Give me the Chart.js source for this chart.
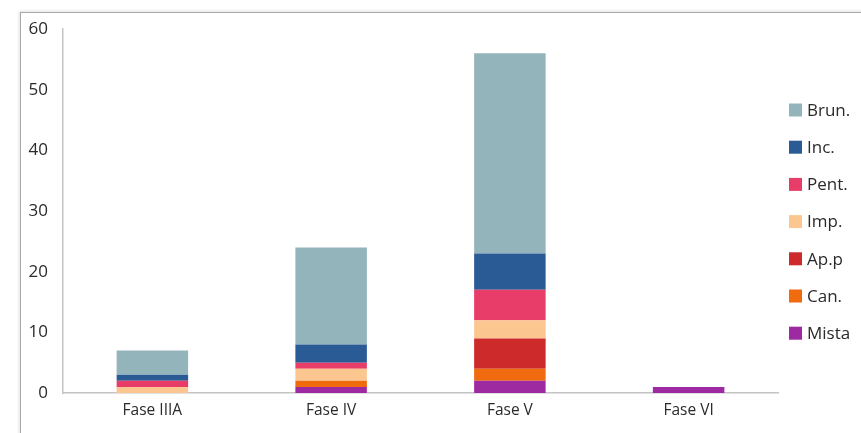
<!DOCTYPE html>
<html>
<head>
<meta charset="utf-8">
<script src="https://cdn.jsdelivr.net/npm/chart.js@4/dist/chart.umd.min.js"></script>
<style>
  html, body { margin: 0; padding: 0; background: #fff; }
  #wrap { position: relative; width: 861px; height: 433px; overflow: hidden; }
  #frame {
    position: absolute; left: 20px; top: 12px; right: -10px; bottom: -10px;
    border-top: 1px solid #a8a8a8; border-left: 1px solid #a8a8a8;
    box-shadow: -1px -1px 3px rgba(0,0,0,0.12);
  }
  canvas { position: absolute; left: 0; top: 0; }
</style>
</head>
<body>
<div id="wrap">
  <div id="frame"></div>
  <canvas id="c" width="861" height="433"></canvas>
</div>
<script>
// Phases on the x axis
const categories = ['Fase IIIA', 'Fase IV', 'Fase V', 'Fase VI'];

// Counts per type, stacked bottom to top
const mista = [0, 1, 2, 1];
const can   = [0, 1, 2, 0];
const app   = [0, 0, 5, 0];
const imp   = [1, 2, 3, 0];
const pent  = [1, 1, 5, 0];
const inc   = [1, 3, 6, 0];
const brun  = [4, 16, 33, 0];

const yTicks = [0, 10, 20, 30, 40, 50, 60];

const FONT = '"Open Sans", sans-serif';
const TEXT = '#2a2a2a';

const series = [
  { label: 'Mista', data: mista, color: '#9e2aa2' },
  { label: 'Can.',  data: can,   color: '#ef6b0e' },
  { label: 'Ap.p',  data: app,   color: '#cd2a2b' },
  { label: 'Imp.',  data: imp,   color: '#fcc690' },
  { label: 'Pent.', data: pent,  color: '#e93d69' },
  { label: 'Inc.',  data: inc,   color: '#2b5b95' },
  { label: 'Brun.', data: brun,  color: '#94b4bc' }
];

// Legend drawn at the right of the plot, top series first
const sideLegend = {
  id: 'sideLegend',
  afterDraw(chart) {
    const ctx = chart.ctx;
    const x0 = chart.chartArea.right + 11;
    const y0 = 110, step = 37.2, box = 13;
    ctx.save();
    ctx.font = '17px ' + FONT;
    ctx.textBaseline = 'middle';
    ctx.textAlign = 'left';
    const ds = chart.data.datasets.slice().reverse();
    ds.forEach((d, i) => {
      const y = y0 + i * step;
      ctx.fillStyle = d.backgroundColor;
      ctx.fillRect(x0, y - box / 2, box, box);
      ctx.fillStyle = TEXT;
      ctx.fillText(d.label, x0 + 18, y + 1);
    });
    ctx.restore();
  }
};

new Chart(document.getElementById('c'), {
  type: 'bar',
  data: {
    labels: categories,
    datasets: series.map(s => ({
      label: s.label,
      data: s.data,
      backgroundColor: s.color,
      borderWidth: 0,
      barPercentage: 0.4,
      categoryPercentage: 1.0
    }))
  },
  options: {
    responsive: false,
    animation: false,
    layout: { padding: { top: 29, right: 83, bottom: 0, left: 0 } },
    plugins: {
      legend: { display: false },
      tooltip: { enabled: false }
    },
    scales: {
      x: {
        stacked: true,
        grid: { display: false, drawTicks: false },
        border: { display: true, color: '#c4c4c4', width: 1.5 },
        ticks: { color: TEXT, font: { family: FONT, size: 15.5 }, padding: 8 },
        afterFit(scale) { scale.height = 40; }
      },
      y: {
        stacked: true,
        min: 0,
        max: 60,
        afterBuildTicks(scale) { scale.ticks = yTicks.map(v => ({ value: v })); },
        grid: { display: false, drawTicks: false },
        border: { display: true, color: '#c4c4c4', width: 1.5 },
        ticks: { color: TEXT, font: { family: FONT, size: 17 }, padding: 15 },
        afterFit(scale) { scale.width = 63; }
      }
    }
  },
  plugins: [sideLegend]
});
</script>
</body>
</html>
